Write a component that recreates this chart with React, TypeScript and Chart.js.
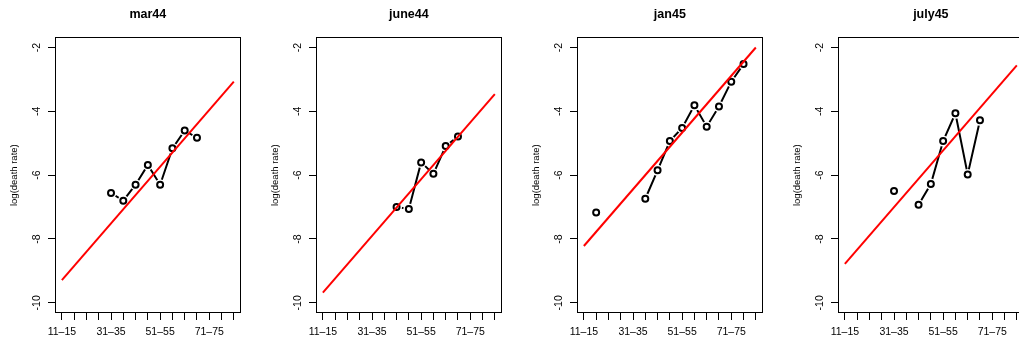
import React, { useEffect, useRef } from "react";
import { Chart, registerables } from "chart.js";

Chart.register(...registerables);

const ageGroups = [
  "11–15", "16–20", "21–25", "26–30", "31–35", "36–40", "41–45", "46–50",
  "51–55", "56–60", "61–65", "66–70", "71–75", "76–80", "81–85",
];
const panelTitles = ["mar44", "june44", "jan45", "july45"];

const mar44 = [null, null, null, null, -6.56, -6.8, -6.3, -5.68, -6.3, -5.16, -4.6, -4.83, null, null, null];
const june44 = [null, null, null, null, null, null, -7.0, -7.06, -5.6, -5.96, -5.09, -4.79, null, null, null];
const jan45 = [null, -7.17, null, null, null, -6.74, -5.85, -4.93, -4.52, -3.81, -4.48, -3.85, -3.07, -2.52, null];
const july45 = [null, null, null, null, -6.5, null, -6.93, -6.28, -4.93, -4.06, -5.98, -4.28, null, null, null];

// fitted line: value at first age group and at last age group
const fitStart = [-9.29, -9.68, -8.22, -8.78];
const fitEnd = [-3.07, -3.46, -2.0, -2.56];

const yTicks = [-10, -8, -6, -4, -2];
const yTitle = "log(death rate)";

const FONT = "'Liberation Sans', Arial, Helvetica, sans-serif";

const boxPlugin = {
  id: "plotBox",
  afterDraw(chart: any) {
    const { ctx, chartArea: a } = chart;
    ctx.save();
    ctx.strokeStyle = "#000";
    ctx.lineWidth = 1;
    const l = Math.round(a.left) + 0.5;
    const t = Math.round(a.top) + 0.5;
    const r = Math.round(a.right) - 0.5;
    const b = Math.round(a.bottom) - 0.5;
    ctx.strokeRect(l, t, r - l, b - t);
    ctx.restore();
  },
};

function Panel({ title, values, fit, left }: { title: string; values: (number | null)[]; fit: number[]; left: number }) {
  const ref = useRef<HTMLCanvasElement | null>(null);
  useEffect(() => {
    if (!ref.current) return;
    const pts = values.map((v, i) => ({ x: i, y: v }));
    const rings = pts.filter((p) => p.y !== null);
    const last = ageGroups.length - 1;
    const tickGrid = {
      drawOnChartArea: false,
      drawTicks: true,
      tickLength: 7,
      color: "#000",
      lineWidth: 1,
    };
    const chart = new Chart(ref.current, {
      type: "scatter",
      data: {
        datasets: [
          {
            type: "line",
            data: [
              { x: 0, y: fit[0] },
              { x: last, y: fit[1] },
            ],
            borderColor: "#ff0000",
            borderWidth: 2,
            pointRadius: 0,
            order: 0,
          } as any,
          {
            type: "scatter",
            data: rings,
            pointRadius: 3,
            pointBorderWidth: 2,
            pointBorderColor: "#000",
            pointBackgroundColor: "rgba(0,0,0,0)",
            order: 1,
          } as any,
          {
            type: "line",
            data: pts,
            borderColor: "#000",
            borderWidth: 2,
            pointRadius: 5.5,
            pointBorderWidth: 0,
            pointBackgroundColor: "#fff",
            spanGaps: false,
            order: 2,
          } as any,
        ],
      },
      options: {
        animation: false,
        responsive: false,
        events: [],
        layout: { padding: { left: 0, right: 20.3, top: 0, bottom: 0 } },
        plugins: {
          legend: { display: false },
          tooltip: { enabled: false },
          title: {
            display: true,
            fullSize: false,
            text: title,
            color: "#000",
            font: { family: FONT, size: 12.5, weight: "bold", lineHeight: 1.2 },
            padding: { top: 7, bottom: 15.3 },
          },
        },
        scales: {
          x: {
            type: "linear",
            min: -0.56,
            max: last + 0.56,
            afterBuildTicks: (s: any) => {
              s.ticks = ageGroups.map((_, i) => ({ value: i }));
            },
            afterFit: (s: any) => {
              s.height = 30;
            },
            ticks: {
              autoSkip: false,
              minRotation: 0,
              maxRotation: 0,
              color: "#000",
              font: { family: FONT, size: 10.5 },
              padding: 5.4,
              callback: (v: any) => (v % 4 === 0 ? ageGroups[v] : ""),
            },
            grid: tickGrid,
            border: { display: false },
          },
          y: {
            type: "linear",
            min: -10.32,
            max: -1.68,
            afterBuildTicks: (s: any) => {
              s.ticks = yTicks.map((v) => ({ value: v }));
            },
            afterFit: (s: any) => {
              s.width = 55;
            },
            ticks: {
              autoSkip: false,
              minRotation: 90,
              maxRotation: 90,
              crossAlign: "center",
              color: "#000",
              font: { family: FONT, size: 10.5 },
              padding: 2.9,
              callback: (v: any) => String(v),
            },
            grid: tickGrid,
            border: { display: false },
            title: {
              display: true,
              text: yTitle,
              color: "#000",
              font: { family: FONT, size: 9.5, lineHeight: 1.2 },
              padding: { top: 8.3, bottom: 0 },
            },
          },
        },
      } as any,
      plugins: [boxPlugin],
    });
    return () => chart.destroy();
  }, []);
  return (
    <canvas
      ref={ref}
      width={261}
      height={343}
      style={{ position: "absolute", left, top: 0, width: 261, height: 343 }}
    />
  );
}

export default function App() {
  const series = [mar44, june44, jan45, july45];
  return (
    <div
      style={{
        position: "absolute",
        left: 0,
        top: 0,
        width: 1019,
        height: 343,
        overflow: "hidden",
        background: "#fff",
      }}
    >
      {panelTitles.map((t, i) => (
        <Panel key={t} title={t} values={series[i]} fit={[fitStart[i], fitEnd[i]]} left={i * 261} />
      ))}
    </div>
  );
}
